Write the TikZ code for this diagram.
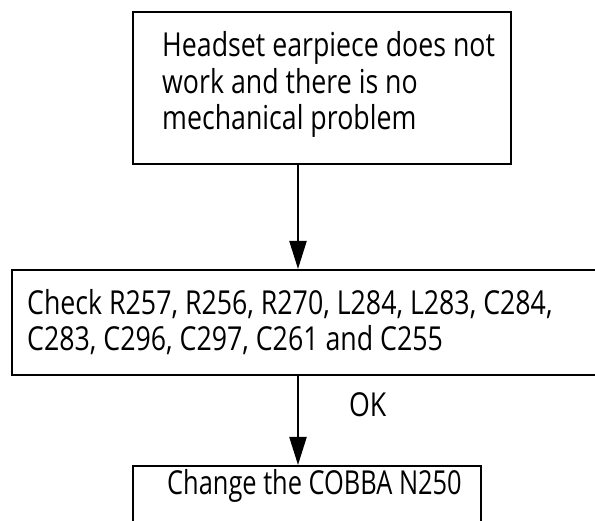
\documentclass[tikz,border=0pt]{standalone}
\usepackage{fontspec}
\setmainfont{Open Sans}[FakeStretch=0.81]
\usetikzlibrary{arrows.meta}
\begin{document}
\begin{tikzpicture}[x=1pt,y=-1pt,
  box/.style={draw=black, line width=2.2pt, rectangle, inner sep=0pt, anchor=north west},
  txt/.style={anchor=base west, inner sep=0pt, font=\fontsize{33}{36.5}\selectfont, align=left},
  arr/.style={line width=2.2pt, -{Triangle[length=28pt,width=17pt]}}]
\useasboundingbox (0,0) rectangle (595,521);
\clip (0,0) rectangle (595,521);
\fill[white] (0,0) rectangle (595,521);
\node[box, minimum width=378pt, minimum height=152pt] (top) at (132,11) {};
\node[box, minimum width=620pt, minimum height=105pt] (mid) at (11,269) {};
\node[box, minimum width=348pt, minimum height=80pt] (bot) at (132,465) {};
\node[txt] (t1) at (162,130) {Headset earpiece does not\\work and there is no\\mechanical problem};
\node[txt] (t2) at (27,351) {Check R257, R256, R270, L284, L283, C284,\\C283, C296, C297, C261 and C255};
\node[txt] (t3) at (167,495) {\scalebox{0.95}[1]{Change the COBBA N250}};
\coordinate (ax) at (298,0);
\draw[arr] (top.south -| ax) -- (mid.north -| ax);
\draw[arr] (mid.south -| ax) -- node[txt, anchor=base west, pos=0.45, xshift=50pt] (ok) {OK} (bot.north -| ax);
\end{tikzpicture}
\end{document}
